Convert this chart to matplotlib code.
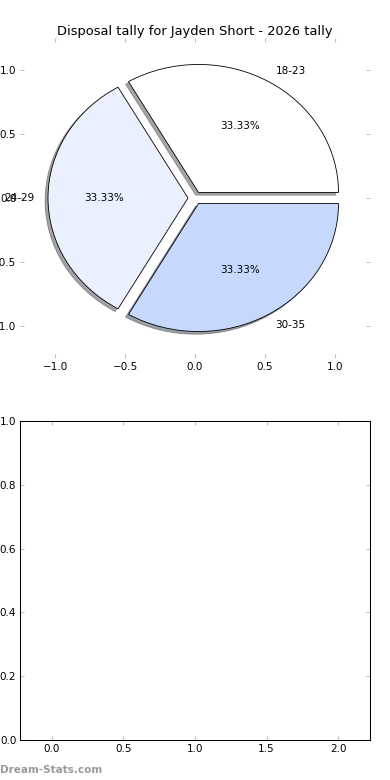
import numpy as np
import matplotlib.pyplot as plt

# pie data
age_groups = ["18-23", "24-29", "30-35"]
disposals = [1, 1, 1]
slice_colors = ["#ffffff", "#eaf0fd", "#c6d9fd"]
explode = [0.05, 0.05, 0.05]

plt.rcParams["font.family"] = "DejaVu Sans"
plt.rcParams["font.size"] = 10

fig = plt.figure(figsize=(5.2, 10.4), dpi=75, facecolor="white")

# top: the pie, frame off but ticks left in
ax1 = fig.add_axes([20 / 390, 1 - 358 / 780, 350 / 390, 320 / 780])
ax1.pie(disposals, labels=age_groups, colors=slice_colors, explode=explode,
        autopct="%1.2f%%", shadow=True, startangle=0, frame=True,
        wedgeprops={"edgecolor": "black", "linewidth": 0.8},
        textprops={"fontsize": 10})
ax1.set_aspect("auto")
ax1.set_xlim(-1.25, 1.25)
ax1.set_ylim(-1.25, 1.25)
ax1.set_xticks(np.arange(-1.0, 1.01, 0.5))
ax1.set_yticks(np.arange(-1.0, 1.01, 0.5))
ax1.set_frame_on(False)
ax1.set_title("Disposal tally for Jayden Short - 2026 tally", fontsize=12.5, pad=3)

# bottom: empty axes
ax2 = fig.add_axes([20 / 390, 1 - 740 / 780, 350 / 390, 319 / 780])
ax2.set_xlim(-0.2235, 2.2235)
ax2.set_ylim(0, 1)
ax2.set_xticks(np.arange(0, 2.01, 0.5))
ax2.set_yticks(np.arange(0, 1.01, 0.2))

for ax in (ax1, ax2):
    ax.tick_params(direction="in", top=True, right=True, length=4,
                   color="#c0c0c0", labelsize=10, width=1)
    for s in ax.spines.values():
        s.set_linewidth(1.0)

fig.text(0.0, 1 - 770 / 780, "Dream-Stats.com", fontsize=10, fontweight="bold",
         color="#9a9a9a", ha="left", va="center")

fig.savefig("out.png", dpi=75, facecolor="white")
